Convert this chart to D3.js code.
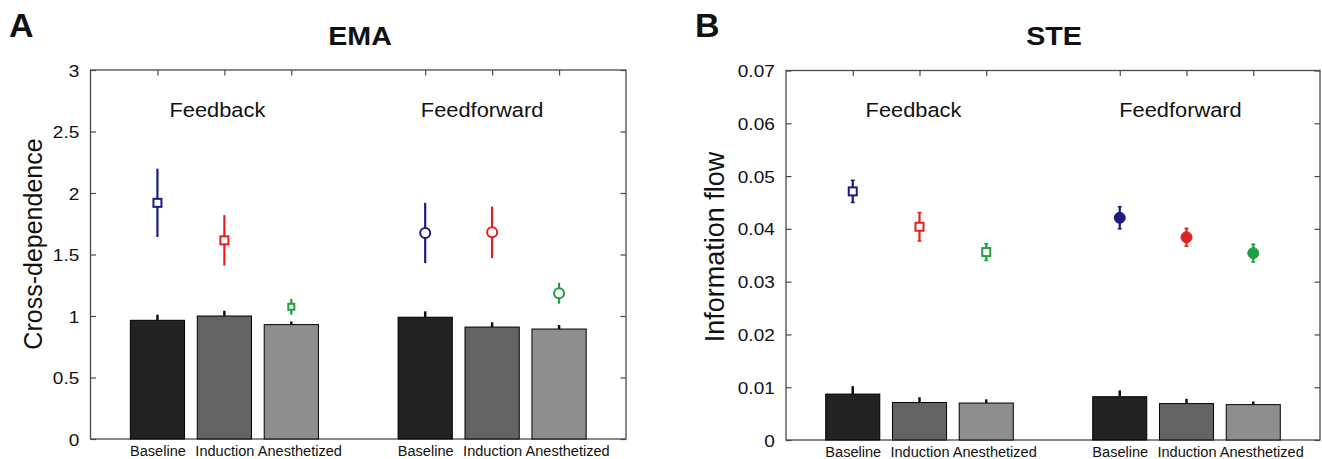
<!DOCTYPE html>
<html>
<head>
<meta charset="utf-8">
<script src="https://cdn.jsdelivr.net/npm/d3@7"></script>
<style>
  body { margin: 0; background: #fff; }
  svg text { font-family: "Liberation Sans", Arial, Helvetica, sans-serif; fill: #111; }
</style>
</head>
<body>
<div id="chart"></div>
<script>
// data
var conditions = ['Baseline', 'Induction', 'Anesthetized'];
var groups = ['Feedback', 'Feedforward'];
var barColors = ['#222222', '#636363', '#8e8e8e'];
var markerColors = ['#1c1c80', '#e3201b', '#1f9e42'];

var emaTicks = [0, 0.5, 1, 1.5, 2, 2.5, 3];
var emaBar = [0.965, 1.0, 0.93, 0.99, 0.91, 0.894];
var emaBarErr = [0.046, 0.043, 0.025, 0.048, 0.039, 0.033];
var emaMarker = [1.92, 1.615, 1.075, 1.675, 1.68, 1.185];
var emaMarkerErr = [0.278, 0.205, 0.065, 0.245, 0.21, 0.085];

var steTicks = [0, 0.01, 0.02, 0.03, 0.04, 0.05, 0.06, 0.07];
var steBar = [0.0087, 0.0071, 0.0070, 0.0082, 0.0069, 0.0067];
var steBarErr = [0.0015, 0.0010, 0.0007, 0.0012, 0.0009, 0.0006];
var steMarker = [0.0471, 0.0404, 0.0356, 0.0421, 0.0384, 0.0354];
var steMarkerErr = [0.0021, 0.0027, 0.0016, 0.0021, 0.0017, 0.0017];

var svg = d3.select('#chart').append('svg')
    .attr('width', 1322)
    .attr('height', 459);

var axisColor = '#4a4a4a';

function drawPanel(p) {
    var g = svg.append('g');
    // category slots: feedback 1..3, feedforward 5..7
    var pos = [];
    groups.forEach(function (gr, gi) {
        conditions.forEach(function (c, ci) { pos.push(gi * 4 + ci + 1); });
    });
    var x = d3.scaleLinear().domain([0, 8]).range([p.left, p.right]);
    var y = d3.scaleLinear().domain([0, d3.max(p.ticks)]).range([p.bottom, p.top]);

    // axes (ticks inward, matlab style)
    var left = g.append('g').attr('transform', 'translate(' + p.left + ',0)')
        .call(d3.axisLeft(y).tickValues(p.ticks).tickFormat(p.fmt).tickSize(-5.5).tickSizeOuter(0).tickPadding(10));
    var right = g.append('g').attr('transform', 'translate(' + p.right + ',0)')
        .call(d3.axisRight(y).tickValues(p.ticks).tickFormat('').tickSize(-5.5).tickSizeOuter(0));
    var top = g.append('g').attr('transform', 'translate(0,' + p.top + ')')
        .call(d3.axisTop(x).tickValues(pos).tickFormat('').tickSize(-5.5).tickSizeOuter(0));
    var bottom = g.append('g').attr('transform', 'translate(0,' + p.bottom + ')')
        .call(d3.axisBottom(x).tickValues(pos).tickFormat(function (d, i) { return conditions[i % 3]; })
            .tickSize(-5.5).tickSizeOuter(0).tickPadding(7));

    [left, right, top, bottom].forEach(function (a) {
        a.select('.domain').remove();
        a.selectAll('line').attr('stroke', axisColor).attr('stroke-width', 1.2);
    });
    left.selectAll('text').attr('font-size', 17).attr('fill', '#111')
        .attr('transform', 'scale(1.12,1)').attr('dy', '0.36em');
    // the "Anesthetized" labels sit a little right of their bar in the original
    bottom.selectAll('text').attr('font-size', 14).attr('fill', '#111')
        .attr('transform', function (d, i) { return 'translate(' + (i % 3 === 2 ? 8 : 0) + ',0) scale(1.04,1)'; });

    // box
    g.append('rect')
        .attr('x', p.left).attr('y', p.top)
        .attr('width', p.right - p.left).attr('height', p.bottom - p.top)
        .attr('fill', 'none').attr('stroke', axisColor).attr('stroke-width', 1.3);

    // bars
    var bw = (x(1) - x(0)) * 0.81;
    g.selectAll('.bar').data(p.bars).enter().append('rect')
        .attr('class', 'bar')
        .attr('x', function (d, i) { return x(pos[i]) - bw / 2; })
        .attr('y', function (d) { return y(d); })
        .attr('width', bw)
        .attr('height', function (d) { return y(0) - y(d); })
        .attr('fill', function (d, i) { return barColors[i % 3]; })
        .attr('stroke', '#000').attr('stroke-width', 1);
    g.selectAll('.barerr').data(p.bars).enter().append('line')
        .attr('class', 'barerr')
        .attr('x1', function (d, i) { return x(pos[i]); })
        .attr('x2', function (d, i) { return x(pos[i]); })
        .attr('y1', function (d) { return y(d); })
        .attr('y2', function (d, i) { return y(d + p.barErr[i]); })
        .attr('stroke', '#111').attr('stroke-width', 2.5);

    // marker error bars
    g.selectAll('.mkerr').data(p.markers).enter().append('line')
        .attr('class', 'mkerr')
        .attr('x1', function (d, i) { return x(pos[i]); })
        .attr('x2', function (d, i) { return x(pos[i]); })
        .attr('y1', function (d, i) { return y(d - p.markerErr[i]); })
        .attr('y2', function (d, i) { return y(d + p.markerErr[i]); })
        .attr('stroke', function (d, i) { return markerColors[i % 3]; })
        .attr('stroke-width', 2.2);
    if (p.caps) {
        [-1, 1].forEach(function (s) {
            g.selectAll('.cap' + s).data(p.markers).enter().append('line')
                .attr('x1', function (d, i) { return x(pos[i]) - 2; })
                .attr('x2', function (d, i) { return x(pos[i]) + 2; })
                .attr('y1', function (d, i) { return y(d + s * p.markerErr[i]); })
                .attr('y2', function (d, i) { return y(d + s * p.markerErr[i]); })
                .attr('stroke', function (d, i) { return markerColors[i % 3]; })
                .attr('stroke-width', 1.5);
        });
    }

    // markers: squares for feedback, circles for feedforward
    p.markers.forEach(function (d, i) {
        var col = markerColors[i % 3];
        var cx = x(pos[i]), cy = y(d);
        if (i < 3) {
            var s = (p.small && i === 2) ? 6 : 8;
            g.append('rect').attr('x', cx - s / 2).attr('y', cy - s / 2)
                .attr('width', s).attr('height', s)
                .attr('fill', '#fff').attr('stroke', col).attr('stroke-width', 2);
        } else {
            g.append('circle').attr('cx', cx).attr('cy', cy).attr('r', p.filled ? 5.5 : 5)
                .attr('fill', p.filled ? col : '#fff').attr('stroke', col).attr('stroke-width', p.filled ? 1 : 2);
        }
    });

    // group labels
    groups.forEach(function (gr, gi) {
        g.append('text')
            .attr('transform', 'translate(' + (x(gi * 4 + 2) + p.groupShift[gi]) + ',117) scale(1.12,1)')
            .attr('text-anchor', 'middle').attr('font-size', 19.5)
            .text(gr);
    });

    // title, panel letter, y label
    g.append('text')
        .attr('transform', 'translate(' + p.titleX + ',45) scale(1.1,1)')
        .attr('text-anchor', 'middle').attr('font-size', 26).attr('font-weight', 'bold')
        .text(p.title);
    g.append('text')
        .attr('x', p.letterX).attr('y', 37)
        .attr('font-size', 34).attr('font-weight', 'bold')
        .text(p.letter);
    g.append('text')
        .attr('transform', 'translate(' + p.ylabelX + ',' + p.ylabelY + ') rotate(-90)')
        .attr('text-anchor', 'middle').attr('dominant-baseline', 'central')
        .attr('font-size', p.yfont)
        .text(p.ylabel);
}

drawPanel({
    letter: 'A', title: 'EMA', ylabel: 'Cross-dependence',
    left: 90.5, right: 626, top: 70, bottom: 439,
    ticks: emaTicks, fmt: function (d) { return String(d); },
    bars: emaBar, barErr: emaBarErr, markers: emaMarker, markerErr: emaMarkerErr,
    filled: false, caps: false, small: true,
    letterX: 9, titleX: 360, ylabelX: 33, ylabelY: 244, yfont: 25,
    groupShift: [-7, -10]
});

drawPanel({
    letter: 'B', title: 'STE', ylabel: 'Information flow',
    left: 786, right: 1320, top: 70.5, bottom: 440,
    ticks: steTicks, fmt: function (d) { return d === 0 ? '0' : d.toFixed(2); },
    bars: steBar, barErr: steBarErr, markers: steMarker, markerErr: steMarkerErr,
    filled: true, caps: true, small: false,
    letterX: 695, titleX: 1054, ylabelX: 715, ylabelY: 247, yfont: 27,
    groupShift: [-6, -6]
});
</script>
</body>
</html>
